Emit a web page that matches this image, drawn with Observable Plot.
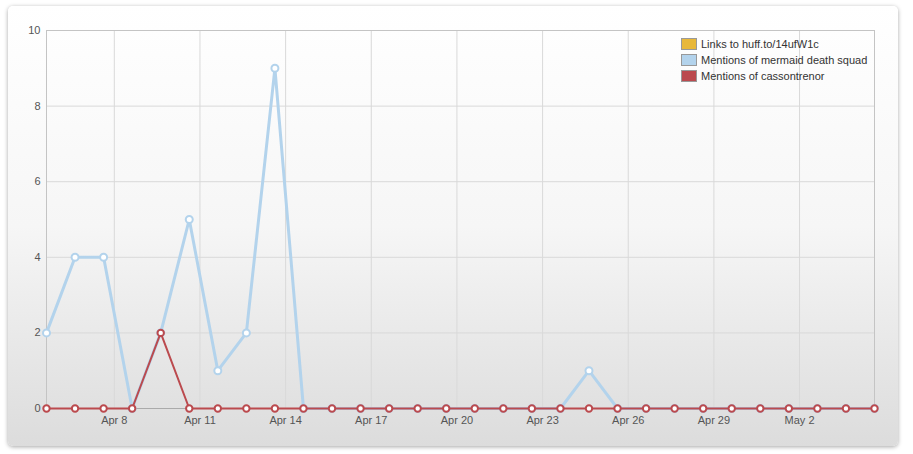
<!DOCTYPE html>
<html>
<head>
<meta charset="utf-8">
<script src="https://cdn.jsdelivr.net/npm/d3@7"></script>
<script src="https://cdn.jsdelivr.net/npm/@observablehq/plot@0.6"></script>
<style>
  body { margin: 0; background: #ffffff; font-family: "Liberation Sans", Arial, sans-serif; }
  #wrap { position: relative; width: 913px; height: 454px; overflow: hidden; background: #fff; }
  #card { position: absolute; left: 8px; top: 6px; width: 890px; height: 440px; border-radius: 5px;
          background: linear-gradient(to bottom, #ffffff 0%, #f6f6f6 50%, #dcdcdc 100%);
          box-shadow: 0 1px 4px rgba(0,0,0,0.35); }
  #chart { position: absolute; left: 0; top: 0; }
  #legend { position: absolute; left: 681px; top: 36px; font-size: 11px; color: #333; line-height: 16px; }
  #legend .row { display: flex; align-items: center; height: 16px; }
  #legend .sw { width: 14px; height: 10px; border: 1px solid #999; margin-right: 4px; }
</style>
</head>
<body>
<div id="wrap">
  <div id="card"></div>
  <div id="chart"></div>
  <div id="legend"></div>
</div>
<script>
// Daily data points (Apr 5 – May 4)
const dates = [
  "2013-04-05","2013-04-06","2013-04-07","2013-04-08","2013-04-09","2013-04-10",
  "2013-04-11","2013-04-12","2013-04-13","2013-04-14","2013-04-15","2013-04-16",
  "2013-04-17","2013-04-18","2013-04-19","2013-04-20","2013-04-21","2013-04-22",
  "2013-04-23","2013-04-24","2013-04-25","2013-04-26","2013-04-27","2013-04-28",
  "2013-04-29","2013-04-30","2013-05-01","2013-05-02","2013-05-03","2013-05-04"
];
const seriesNames = ["Links to huff.to/14ufW1c", "Mentions of mermaid death squad", "Mentions of cassontrenor"];
const seriesColors = ["#e8b83a", "#b3d3ec", "#bb4a4e"];
const huffLinks    = []; // no data plotted for this series
const mermaid      = [2,4,4,0,2,5,1,2,9,0,0,0,0,0,0,0,0,0,0,1,0,0,0,0,0,0,0,0,0,0];
const cassontrenor = [0,0,0,0,2,0,0,0,0,0,0,0,0,0,0,0,0,0,0,0,0,0,0,0,0,0,0,0,0,0];
const xTickLabels = ["2013-04-08","2013-04-11","2013-04-14","2013-04-17","2013-04-20","2013-04-23","2013-04-26","2013-04-29","2013-05-02"];
const yTicks = [0, 2, 4, 6, 8, 10];

// points are sampled mid-afternoon (UTC), gridlines fall at midnight
const toPointDate = s => new Date(s + "T15:00:00Z");
const toTickDate = s => new Date(s + "T00:00:00Z");

const allSeries = [huffLinks, mermaid, cassontrenor];
const rows = [];
allSeries.forEach((vals, si) => vals.forEach((v, i) => rows.push({series: seriesNames[si], date: toPointDate(dates[i]), value: v})));
const ticks = xTickLabels.map(toTickDate);
const fmt = d3.utcFormat("%b %-d");

const widths = [2, 3, 2];
const radii = [3.2, 3.5, 3.2];
const marks = [
  Plot.ruleY(yTicks, {y: d => d, stroke: "#d9d9d9", strokeWidth: 1}),
  Plot.ruleX(ticks, {x: d => d, stroke: "#d9d9d9", strokeWidth: 1}),
  Plot.frame({stroke: "#c4c4c4"}),
  Plot.ruleY([0], {stroke: "#aaaaaa"}),
  Plot.axisX(ticks, {tickSize: 0, tickPadding: 8, tickFormat: fmt, fontSize: 11, fill: "#555", label: null}),
  Plot.axisY(yTicks, {tickSize: 0, tickPadding: 6, fontSize: 11, fill: "#555", label: null})
];
seriesNames.forEach((name, si) => {
  const data = rows.filter(r => r.series === name);
  marks.push(Plot.line(data, {x: "date", y: "value", stroke: seriesColors[si], strokeWidth: widths[si], strokeLinejoin: "round"}));
  marks.push(Plot.dot(data, {x: "date", y: "value", r: radii[si], fill: "white", stroke: seriesColors[si], strokeWidth: 2}));
});

const chart = Plot.plot({
  width: 913,
  height: 454,
  marginLeft: 46,
  marginRight: 39,
  marginTop: 30,
  marginBottom: 46,
  style: {background: "transparent", fontFamily: "'Liberation Sans', Arial, sans-serif", overflow: "visible"},
  x: {type: "utc", domain: [toPointDate(dates[0]), toPointDate(dates[dates.length - 1])], label: null},
  y: {domain: [0, 10], label: null},
  marks
});
document.getElementById("chart").appendChild(chart);

const legend = document.getElementById("legend");
seriesNames.forEach((name, si) => {
  const row = document.createElement("div");
  row.className = "row";
  const sw = document.createElement("div");
  sw.className = "sw";
  sw.style.background = seriesColors[si];
  const t = document.createElement("span");
  t.textContent = name;
  row.appendChild(sw);
  row.appendChild(t);
  legend.appendChild(row);
});
</script>
</body>
</html>
